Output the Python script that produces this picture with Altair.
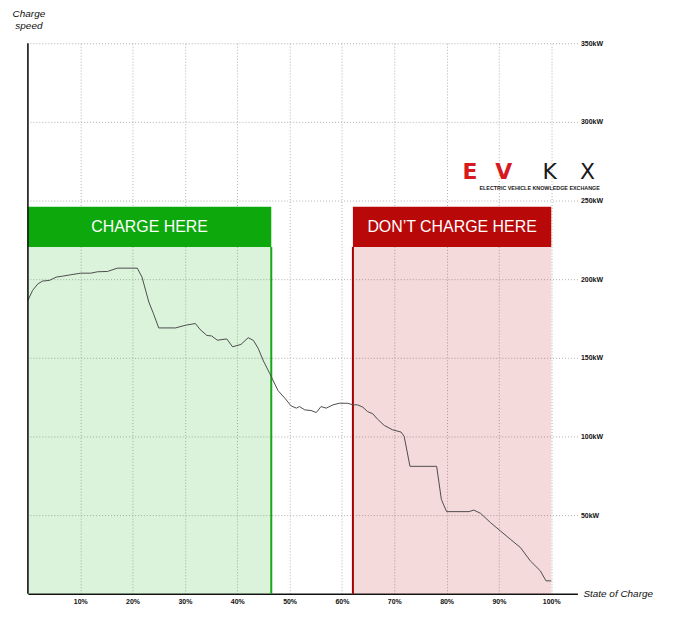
import altair as alt
import pandas as pd

# State of charge (%) and charging power (kW)
soc = [0, 0.9, 1.9, 2.8, 4.1, 5.4, 6.6, 8.2, 10.1, 12.0, 13.3, 15.2, 17.1, 20.9, 21.8,
       23.1, 24.0, 25.0, 28.2, 30.1, 32.0, 32.9, 34.2, 35.1, 36.2, 38.0, 39.1, 40.7, 42.1,
       43.1, 44.0, 45.0, 46.2, 47.8, 49.1, 50.3, 51.3, 51.9, 52.9, 54.1, 55.1, 56.0, 57.0,
       58.3, 59.5, 61.1, 62.1, 63.0, 64.0, 64.9, 65.9, 66.8, 68.1, 69.7, 71.3, 71.9, 73.0,
       78.1, 79.0, 80.0, 84.3, 85.2, 86.5, 88.4, 90.3, 92.2, 94.1, 96.0, 97.9, 99.0, 100]
kw = [186.5, 192.9, 197.0, 198.8, 199.2, 201.3, 201.9, 202.8, 203.8, 203.8, 204.7, 204.9,
      207.0, 207.0, 201.3, 185.5, 178.0, 169.0, 169.0, 170.7, 171.8, 168.0, 164.2, 163.9,
      161.2, 162.0, 157.0, 158.5, 162.8, 161.0, 156.0, 148.0, 140.1, 129.1, 124.3, 119.4,
      118.0, 119.0, 116.9, 116.5, 115.2, 119.0, 118.0, 120.1, 121.1, 121.1, 120.1, 120.1,
      118.6, 115.8, 114.4, 111.0, 107.0, 104.2, 102.8, 100.0, 81.0, 81.0, 60.0, 52.2, 52.2,
      53.2, 51.1, 45.2, 39.9, 34.6, 29.4, 20.9, 14.6, 8.2, 8.2]

x_ticks = [10, 20, 30, 40, 50, 60, 70, 80, 90, 100]
y_ticks = [50, 100, 150, 200, 250, 300, 350]

zone_names = ["CHARGE HERE", "DON\u2019T CHARGE HERE"]
zone_start = [0, 62.1]
zone_end = [46.5, 100]
zone_edge = [46.5, 62.1]
zone_fill = ["#10a810", "#b80808"]
zone_header = ["#0ca80c", "#b80808"]
zone_line = ["#1aa51a", "#a80000"]
header_low = 220.5
header_high = 246.0

line_df = pd.DataFrame({"soc": soc, "kw": kw})
one = pd.DataFrame({"k": [0]})
zones = pd.DataFrame({
    "name": zone_names,
    "start": zone_start,
    "end": zone_end,
    "edge": zone_edge,
    "fill": zone_fill,
    "header": zone_header,
    "linec": zone_line,
})
zones["mid"] = (zones["start"] + zones["end"]) / 2
zones["zero"] = 0.0
zones["lo"] = header_low
zones["hi"] = header_high
zones["hmid"] = (header_low + header_high) / 2

FONT = "Liberation Sans"
xs = alt.Scale(domain=[0, 105], nice=False, zero=False)
ys = alt.Scale(domain=[0, 350], nice=False)

xaxis = alt.Axis(
    values=x_ticks, labelExpr="datum.value + '%'", title=None,
    grid=True, gridDash=[1, 2], gridColor="#b0b0b0", gridWidth=1,
    ticks=False, domain=True, domainColor="#111111", domainWidth=1.6,
    labelFont=FONT, labelFontWeight="bold", labelFontSize=7, labelColor="#111111",
    labelPadding=4,
)
yaxis = alt.Axis(
    orient="right", values=y_ticks, labelExpr="datum.value + 'kW'", title=None,
    grid=True, gridDash=[1, 2], gridColor="#b0b0b0", gridWidth=1,
    ticks=False, domain=False,
    labelFont=FONT, labelFontWeight="bold", labelFontSize=7, labelColor="#111111",
    labelPadding=3, labelAlign="left",
)

base = alt.Chart(zones)

fills = base.mark_rect(opacity=0.15).encode(
    x=alt.X("start:Q", scale=xs, axis=xaxis),
    x2="end:Q",
    y=alt.Y("zero:Q", scale=ys, axis=yaxis),
    y2="lo:Q",
    color=alt.Color("fill:N", scale=None),
)
headers = base.mark_rect().encode(
    x=alt.X("start:Q", scale=xs), x2="end:Q",
    y=alt.Y("lo:Q", scale=ys), y2="hi:Q",
    color=alt.Color("header:N", scale=None),
)
edges = base.mark_rule(strokeWidth=2).encode(
    x=alt.X("edge:Q", scale=xs),
    y=alt.Y("zero:Q", scale=ys), y2="lo:Q",
    color=alt.Color("linec:N", scale=None),
)
header_text = base.mark_text(
    color="white", font=FONT, fontSize=16, align="center", baseline="middle"
).encode(
    x=alt.X("mid:Q", scale=xs),
    y=alt.Y("hmid:Q", scale=ys),
    text="name:N",
)

curve = alt.Chart(line_df).mark_line(color="#4d4d4d", strokeWidth=1).encode(
    x=alt.X("soc:Q", scale=xs),
    y=alt.Y("kw:Q", scale=ys),
)

left_axis = alt.Chart(one).mark_rule(color="#111111", strokeWidth=1.6).encode(
    x=alt.datum(0), y=alt.datum(0), y2=alt.datum(350)
)

ytitle = alt.Chart(one).mark_text(
    text="Charge\nspeed", lineBreak="\n", font=FONT, fontStyle="italic", fontSize=10,
    align="center", baseline="alphabetic", color="#111111", lineHeight=12,
).encode(x=alt.value(1), y=alt.value(-26))

xtitle = alt.Chart(one).mark_text(
    text="State of Charge", font=FONT, fontStyle="italic", fontSize=10,
    align="left", baseline="middle", color="#111111",
).encode(x=alt.value(558), y=alt.value(553))

logo_layers = []
for letter, px, col, wt in [("E", 444, "#d71920", "bold"), ("V", 478, "#d71920", "bold"),
                            ("K", 524, "#1a1a1a", "normal"), ("X", 562, "#1a1a1a", "normal")]:
    logo_layers.append(
        alt.Chart(one).mark_text(
            text=letter, font="DejaVu Sans", fontSize=22, align="center",
            baseline="alphabetic", color=col, fontWeight=wt,
        ).encode(x=alt.value(px), y=alt.value(136))
    )
tagline = alt.Chart(one).mark_text(
    text="ELECTRIC VEHICLE KNOWLEDGE EXCHANGE", font=FONT, fontSize=5.4,
    fontWeight="bold", align="center", baseline="top", color="#1a1a1a",
).encode(x=alt.value(514), y=alt.value(143))

chart = alt.layer(
    fills, headers, edges, header_text, curve, left_axis, ytitle, xtitle,
    *logo_layers, tagline,
).properties(
    width=552, height=553,
    padding={"left": 20, "top": 34, "right": 95, "bottom": 28},
    autosize=alt.AutoSizeParams(type="none"),
    background="white",
).configure_view(stroke=None)

chart.save("out.html", embed_options={"renderer": "svg", "actions": False})
